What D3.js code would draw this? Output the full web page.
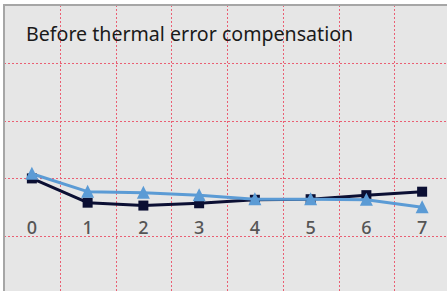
<!DOCTYPE html>
<html>
<head>
<meta charset="utf-8">
<script src="https://cdn.jsdelivr.net/npm/d3@7"></script>
<style>
  body { margin: 0; background: #fff; }
  svg { display: block; }
</style>
</head>
<body>
<div id="chart"></div>
<script>
// chart values
const categories = ['0', '1', '2', '3', '4', '5', '6', '7']
const squareSeries = [0, -4.2, -4.7, -4.3, -3.7, -3.6, -2.9, -2.3]
const triangleSeries = [0.8, -2.3, -2.5, -2.9, -3.6, -3.6, -3.7, -5.0]
const yTicks = [-20, -10, 0, 10, 20]
const title = 'Before thermal error compensation'

const width = 447, height = 291
const plot = {left: 4, top: 5, right: 450, bottom: 294}

const svg = d3.select('#chart').append('svg')
  .attr('width', width)
  .attr('height', height)

const x = d3.scaleBand()
  .domain(categories)
  .range([plot.left, plot.right])
  .padding(0)

const y = d3.scaleLinear()
  .domain([-20, 30])
  .range([plot.bottom, plot.top])

// plot background
svg.append('rect')
  .attr('x', plot.left)
  .attr('y', plot.top)
  .attr('width', plot.right - plot.left)
  .attr('height', plot.bottom - plot.top)
  .attr('fill', '#e6e6e6')

// dotted grid
let grid = svg.append('g')
  .attr('stroke', '#ea5f73')
  .attr('stroke-width', 1)
  .attr('stroke-dasharray', '2,2')

grid.selectAll('line.v')
  .data(categories.slice(1))
  .enter().append('line')
  .attr('class', 'v')
  .attr('x1', d => Math.round(x(d)) + 0.5)
  .attr('x2', d => Math.round(x(d)) + 0.5)
  .attr('y1', plot.top)
  .attr('y2', plot.bottom)

grid.selectAll('line.h')
  .data(yTicks)
  .enter().append('line')
  .attr('class', 'h')
  .attr('x1', plot.left)
  .attr('x2', plot.right)
  .attr('y1', d => Math.round(y(d)) + 0.5)
  .attr('y2', d => Math.round(y(d)) + 0.5)

// plot border, only left and top are in view
svg.append('path')
  .attr('d', 'M' + plot.left + ',' + plot.bottom + 'V' + plot.top + 'H' + plot.right)
  .attr('fill', 'none')
  .attr('stroke', '#a6a6a6')
  .attr('stroke-width', 2)

// category axis, labels hang below the zero line
let xAxis = svg.append('g')
  .attr('transform', 'translate(0,' + y(0) + ')')
  .call(d3.axisBottom(x).tickSize(0).tickPadding(43))
xAxis.select('.domain').remove()
xAxis.selectAll('text')
  .attr('fill', '#555')
  .style('font-family', '"Noto Sans", sans-serif')
  .style('font-size', '18px')
  .style('font-weight', 500)

const cx = (d, i) => x(categories[i]) + x.bandwidth() / 2
const line = d3.line().x(cx).y(d => y(d))

// square series
svg.append('path')
  .datum(squareSeries)
  .attr('d', line)
  .attr('fill', 'none')
  .attr('stroke', '#0b0f33')
  .attr('stroke-width', 3)
  .attr('stroke-linejoin', 'round')

svg.selectAll('rect.sq')
  .data(squareSeries)
  .enter().append('rect')
  .attr('class', 'sq')
  .attr('x', (d, i) => cx(d, i) - 5)
  .attr('y', d => y(d) - 5)
  .attr('width', 10)
  .attr('height', 10)
  .attr('fill', '#0b0f33')

// triangle series
svg.append('path')
  .datum(triangleSeries)
  .attr('d', line)
  .attr('fill', 'none')
  .attr('stroke', '#5b9bd5')
  .attr('stroke-width', 3)
  .attr('stroke-linejoin', 'round')

// triangle markers about 13px wide, 13px tall
svg.selectAll('path.tri')
  .data(triangleSeries)
  .enter().append('path')
  .attr('class', 'tri')
  .attr('d', 'M0,-7L6.5,6L-6.5,6Z')
  .attr('transform', (d, i) => 'translate(' + cx(d, i) + ',' + y(d) + ')')
  .attr('fill', '#5b9bd5')

// title
svg.append('text')
  .attr('x', 26)
  .attr('y', 41)
  .attr('fill', '#1a1a1a')
  .style('font-family', '"Noto Sans", sans-serif')
  .style('font-size', '19.6px')
  .text(title)
</script>
</body>
</html>
